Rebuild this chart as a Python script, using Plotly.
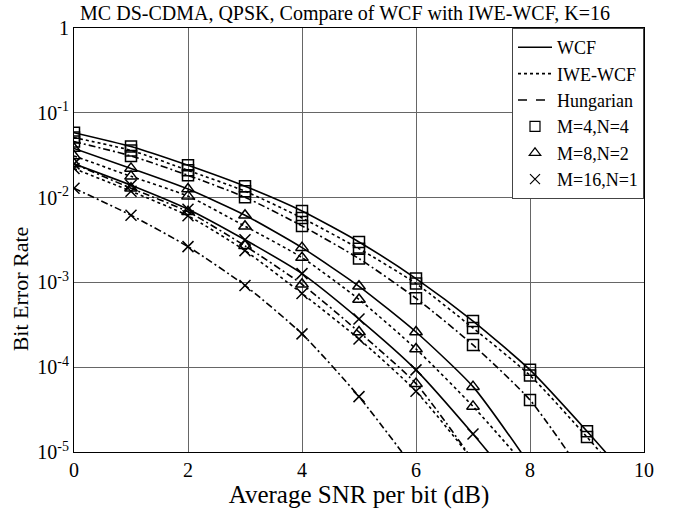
import plotly.graph_objects as go

snr = [0, 1, 2, 3, 4, 5, 6, 7, 8, 9, 10]

# M=4,N=4 (squares)
sq_wcf = [0.0583, 0.040, 0.024, 0.0136, 0.00695, 0.0030, 0.00111, 3.5e-4, 9.3e-5, 1.76e-5, 3.0e-6]
sq_iwe = [0.051, 0.036, 0.021, 0.0119, 0.00575, 0.0025, 0.00097, 2.9e-4, 8.0e-5, 1.5e-5, 2.5e-6]
sq_hun = [0.0458, 0.031, 0.0183, 0.0101, 0.00464, 0.00191, 0.00065, 1.83e-4, 4.1e-5, 4.7e-6]
# M=8,N=2 (triangles)
tr_wcf = [0.038, 0.0221, 0.0126, 0.0062, 0.00257, 9.0e-4, 2.6e-4, 5.9e-5, 7.0e-6]
tr_iwe = [0.031, 0.0178, 0.0104, 0.0046, 0.00196, 6.3e-4, 1.64e-4, 3.45e-5, 6.0e-6]
tr_hun = [0.025, 0.0129, 0.0068, 0.0027, 9.5e-4, 2.6e-4, 6.4e-5, 8.0e-6]
# M=16,N=1 (crosses)
x_wcf = [0.025, 0.014, 0.0073, 0.00318, 0.00127, 3.7e-4, 9.3e-5, 1.63e-5, 2.5e-6]
x_iwe = [0.022, 0.0119, 0.0061, 0.00237, 7.4e-4, 2.15e-4, 5.2e-5, 8.0e-6]
x_hun = [0.0129, 0.0062, 0.00264, 9.2e-4, 2.47e-4, 4.5e-5, 6.0e-6]

methods = ["WCF", "IWE-WCF", "Hungarian"]
groups = ["M=4,N=4", "M=8,N=2", "M=16,N=1"]
yticks = [1e-5, 1e-4, 1e-3, 1e-2, 1e-1, 1]
ytext = ["10<sup>-5</sup>", "10<sup>-4</sup>", "10<sup>-3</sup>", "10<sup>-2</sup>", "10<sup>-1</sup>", "1"]

dashes = {"WCF": "solid", "IWE-WCF": "dot", "Hungarian": "7px,3px,2px,3px"}
legend_dashes = {"WCF": "solid", "IWE-WCF": "dot", "Hungarian": "dash"}
symbols = {"M=4,N=4": "square-open", "M=8,N=2": "triangle-up-open", "M=16,N=1": "x-thin-open"}

series = [
    ("M=4,N=4", "WCF", sq_wcf), ("M=4,N=4", "IWE-WCF", sq_iwe), ("M=4,N=4", "Hungarian", sq_hun),
    ("M=8,N=2", "WCF", tr_wcf), ("M=8,N=2", "IWE-WCF", tr_iwe), ("M=8,N=2", "Hungarian", tr_hun),
    ("M=16,N=1", "WCF", x_wcf), ("M=16,N=1", "IWE-WCF", x_iwe), ("M=16,N=1", "Hungarian", x_hun),
]

fig = go.Figure()
for g, m, ys in series:
    fig.add_trace(go.Scatter(
        x=snr[:len(ys)], y=ys, mode="lines+markers", showlegend=False,
        line=dict(color="black", width=1.6, dash=dashes[m], shape="spline", smoothing=0.6),
        marker=dict(symbol=symbols[g], size=11, color="black",
                    line=dict(color="black", width=1.5)),
    ))

for m in methods:
    fig.add_trace(go.Scatter(x=[None], y=[None], mode="lines", name=m,
                             line=dict(color="black", width=1.6, dash=legend_dashes[m])))
for g in groups:
    fig.add_trace(go.Scatter(x=[None], y=[None], mode="markers", name=g,
                             marker=dict(symbol=symbols[g], size=10, color="black",
                                         line=dict(color="black", width=1.2))))

font = "Liberation Serif, Times New Roman, serif"
fig.update_layout(
    width=674, height=511,
    margin=dict(l=74, r=30, t=28, b=55),
    paper_bgcolor="white", plot_bgcolor="white",
    font=dict(family=font, size=20, color="black"),
    title=dict(text="MC DS-CDMA, QPSK, Compare of WCF with IWE-WCF, K=16",
               x=345 / 674, xref="container", xanchor="center",
               y=1 - 13 / 511, yref="container", yanchor="middle",
               font=dict(family=font, size=20, color="black")),
    showlegend=True,
    legend=dict(x=1, y=1, xanchor="right", yanchor="top",
                bordercolor="#444444", borderwidth=1, bgcolor="white",
                font=dict(family=font, size=18, color="black"),
                tracegroupgap=0, itemwidth=34),
    annotations=[dict(text="Bit Error Rate", textangle=-90,
                      xref="paper", x=-(74 - 20) / 570, xanchor="center",
                      yref="paper", y=(456 - 292) / 427.5, yanchor="middle",
                      showarrow=False, font=dict(family=font, size=22, color="black"))],
)
fig.update_xaxes(range=[0, 10], tickvals=[0, 2, 4, 6, 8, 10],
                 showgrid=True, gridcolor="#666666", gridwidth=1,
                 showline=True, linecolor="black", linewidth=1.2, mirror=True,
                 ticks="", zeroline=False, tickfont=dict(size=20),
                 title=dict(text="Average SNR per bit (dB)", standoff=0,
                            font=dict(family=font, size=25)))
fig.update_yaxes(type="log", range=[-5, 0], tickvals=yticks, ticktext=ytext,
                 showgrid=True, gridcolor="#666666", gridwidth=1,
                 showline=True, linecolor="black", linewidth=1.2, mirror=True,
                 ticks="", zeroline=False, tickfont=dict(size=20))

fig.write_html("out.html")
